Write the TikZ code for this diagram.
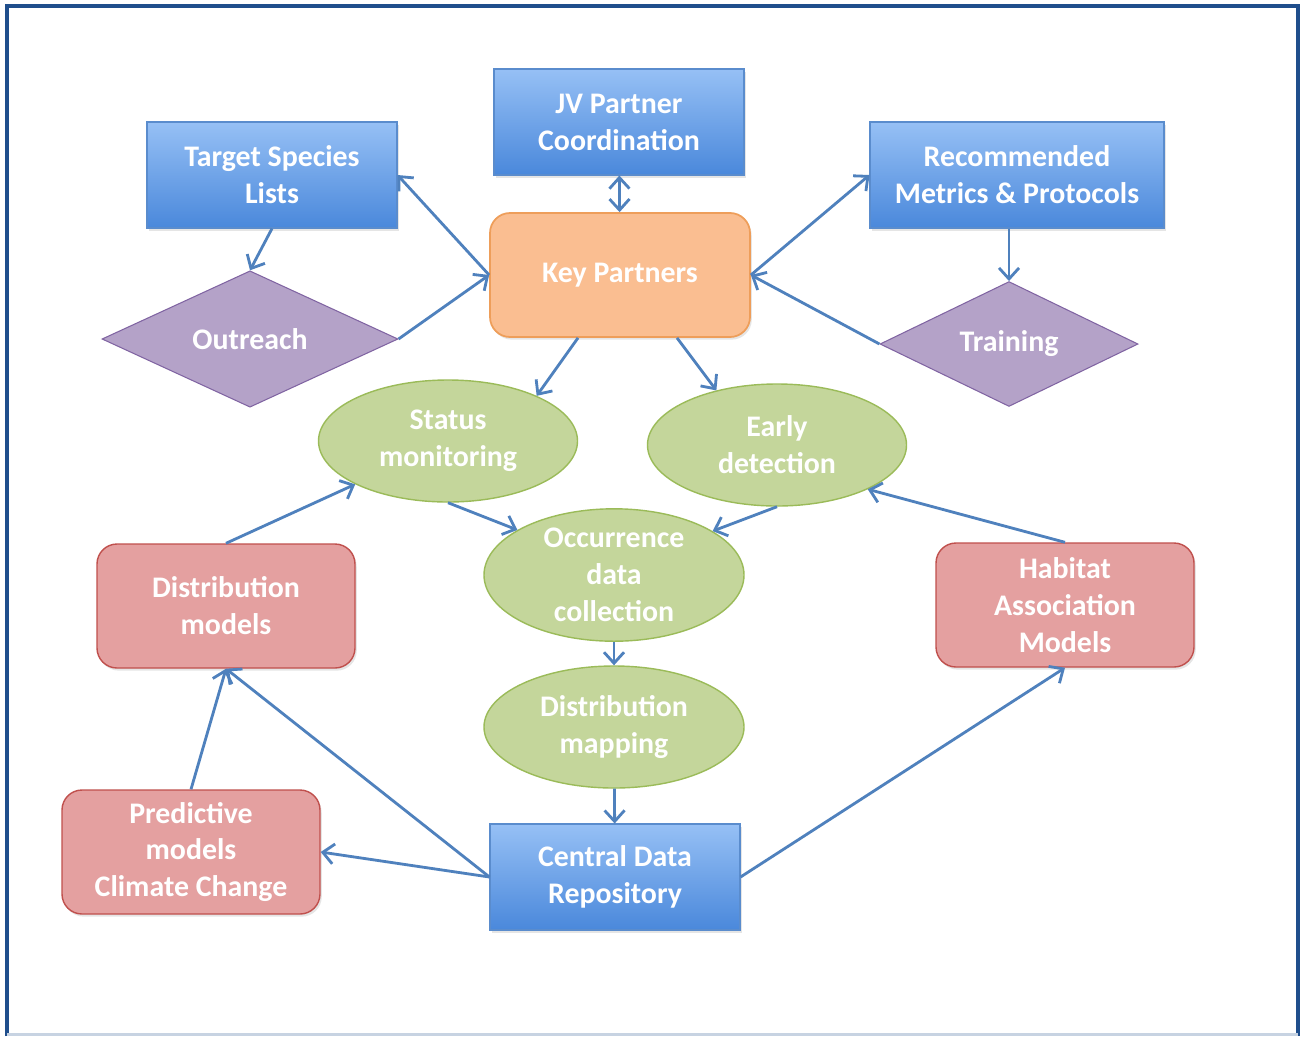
\documentclass[tikz,border=0pt]{standalone}
\usepackage{fontspec}
\setmainfont{Carlito}
\usetikzlibrary{shapes.geometric,arrows.meta,shadows}

\definecolor{framecol}{RGB}{31,78,140}
\definecolor{arrowcol}{RGB}{79,129,189}
\definecolor{bluetop}{RGB}{150,192,245}
\definecolor{bluebot}{RGB}{74,136,219}
\definecolor{blueline}{RGB}{90,140,205}
\definecolor{orangefill}{RGB}{250,190,145}
\definecolor{orangeline}{RGB}{238,158,90}
\definecolor{purplefill}{RGB}{180,162,200}
\definecolor{purpleline}{RGB}{128,100,162}
\definecolor{greenfill}{RGB}{196,214,155}
\definecolor{greenline}{RGB}{155,187,89}
\definecolor{pinkfill}{RGB}{228,160,160}
\definecolor{pinkline}{RGB}{192,80,77}

\tikzset{
  lbl/.style={text=white, font=\fontsize{17}{21}\selectfont\bfseries, align=center, inner sep=0pt},
  bluebox/.style={lbl, rectangle, draw=blueline, line width=0.6pt, top color=bluetop, bottom color=bluebot,
    minimum width=5cm, minimum height=2.12cm, drop shadow={opacity=0.2, shadow xshift=1pt, shadow yshift=-1.5pt}},
  keybox/.style={lbl, rectangle, rounded corners=0.4cm, draw=orangeline, line width=1pt, fill=orangefill,
    minimum width=5.2cm, minimum height=2.48cm, drop shadow={opacity=0.2, shadow xshift=1pt, shadow yshift=-1.5pt}},
  modelbox/.style={lbl, rectangle, rounded corners=0.4cm, draw=pinkline, line width=0.8pt, fill=pinkfill,
    minimum width=5.16cm, minimum height=2.48cm, drop shadow={opacity=0.2, shadow xshift=1pt, shadow yshift=-1.5pt}},
  actdiamond/.style={lbl, diamond, draw=purpleline, line width=0.6pt, fill=purplefill, minimum height=2.44cm},
  stageoval/.style={lbl, ellipse, draw=greenline, line width=0.8pt, fill=greenfill,
    minimum width=5.18cm, minimum height=2.44cm}
}

\begin{document}
\begin{tikzpicture}[>={Straight Barb[length=2.2mm,width=4mm]}, line width=1.6pt]
        \useasboundingbox (0,0) rectangle (26.02,-20.72);
        \fill[white] (0,0) rectangle (26.02,-20.72);
        % frame
        \draw[framecol, line width=0.08cm] (0.14,-20.72) -- (0.14,-0.12) -- (25.96,-0.12) -- (25.96,-20.72);
        \draw[framecol!25, line width=0.06cm] (0.14,-20.69) -- (25.96,-20.69);

        \node[bluebox] (tsl) at (5.44,-3.50) {Target Species\\Lists};
        \node[bluebox] (jv) at (12.38,-2.44) {JV Partner\\Coordination};
        \node[bluebox, minimum width=5.88cm] (rmp) at (20.34,-3.50) {Recommended\\Metrics \& Protocols};
        \node[keybox] (kp) at (12.40,-5.50) {Key Partners};
        \node[actdiamond, minimum width=5.92cm] (out) at (5.00,-6.78) {Outreach};
        \node[actdiamond, minimum width=5.16cm] (trn) at (20.18,-6.88) {Training};
        \node[stageoval] (stm) at (8.96,-8.82) {Status\\monitoring};
        \node[stageoval] (ed) at (15.54,-8.90) {Early\\detection};
        \node[stageoval, minimum width=5.2cm] (odc) at (12.28,-11.50) {Occurrence\\data\\collection};
        \node[stageoval, minimum width=5.2cm] (dmap) at (12.28,-14.54) {Distribution\\mapping};
        \node[modelbox] (dmod) at (4.52,-12.12) {Distribution\\models};
        \node[modelbox] (ham) at (21.30,-12.10) {Habitat\\Association\\Models};
        \node[modelbox] (pmc) at (3.82,-17.04) {Predictive\\models\\Climate Change};
        \node[bluebox] (cdr) at (12.30,-17.54) {Central Data\\Repository};

        \begin{scope}[arrowcol]
        \draw[<->] (jv) -- (kp);
        \draw[->] (kp.west) -- (tsl.east);
        \draw[->] (tsl.south) -- (out.north);
        \draw[->] (out.east) -- (kp.west);
        \draw[->] (kp.east) -- (rmp.west);
        \draw[->] (rmp.south -| trn.north) -- (trn.north);
        \draw[->] (trn.west) -- (kp.east);
        \draw[->] ([xshift=-0.84cm]kp.south) -- (stm.27);
        \draw[->] ([xshift=1.14cm]kp.south) -- (ed.138);
        \draw[->] (stm.south) -- (odc.155);
        \draw[->] (ed.south) -- (odc.24);
        \draw[->] (odc) -- (dmap);
        \draw[->] (dmap) -- (cdr);
        \draw[->] (cdr.west) -- (pmc.east);
        \draw[->] (cdr.west) -- (dmod.south);
        \draw[->] (pmc.north) -- (dmod.south);
        \draw[->] (dmod.north) -- (stm.205);
        \draw[->] (cdr.east) -- (ham.south);
        \draw[->] (ham.north) -- (ed.334);
        \end{scope}
    \end{tikzpicture}
\end{document}
